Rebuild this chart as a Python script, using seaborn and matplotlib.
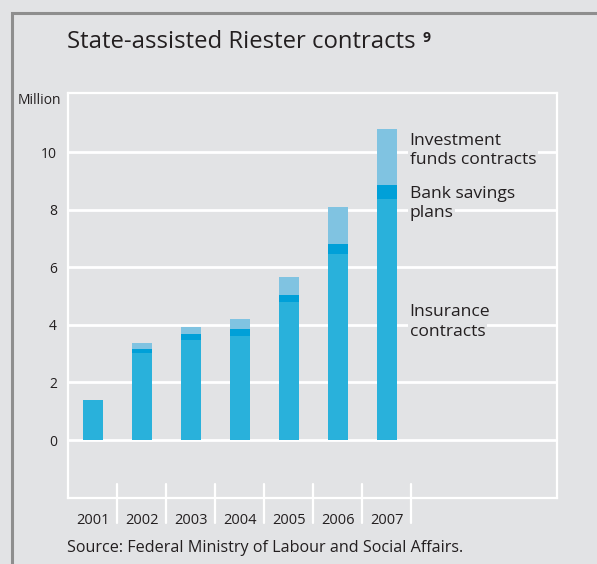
import matplotlib
matplotlib.use("Agg")
import matplotlib.pyplot as plt
import seaborn as sns
import pandas as pd
import numpy as np
from matplotlib.patches import Rectangle

years = ["2001", "2002", "2003", "2004", "2005", "2006", "2007"]
insurance = [1.40, 3.03, 3.47, 3.63, 4.79, 6.47, 8.37]
bank = [0.00, 0.14, 0.21, 0.22, 0.25, 0.34, 0.48]
funds = [0.00, 0.20, 0.24, 0.35, 0.62, 1.28, 1.95]
yticks = [0, 2, 4, 6, 8, 10]

BG = "#E2E3E5"
C_INS = "#29B1DB"
C_BANK = "#00A0D8"
C_FUND = "#80C3E1"
TXT = "#231F20"

sns.set_style("white")
plt.rcParams["font.family"] = ["Open Sans", "DejaVu Sans"]

df = pd.DataFrame({"year": years, "insurance": insurance, "bank": bank, "funds": funds})
df["lvl_bank"] = df["insurance"] + df["bank"]
df["lvl_total"] = df["lvl_bank"] + df["funds"]

fig = plt.figure(figsize=(5.97, 5.64), dpi=100, facecolor=BG)
ax = fig.add_axes([68 / 597, 1 - 498 / 564, (556.7 - 68) / 597, (498 - 93) / 564])
ax.set_facecolor(BG)

for col, c in [("lvl_total", C_FUND), ("lvl_bank", C_BANK), ("insurance", C_INS)]:
    sns.barplot(data=df, x="year", y=col, color=c, width=0.41, ax=ax,
                saturation=1, edgecolor="none", linewidth=0, zorder=3)

ax.set_xlim(-0.504, 9.47)
ax.set_ylim(-2.01, 12.05)
ax.set_yticks(yticks)
ax.set_yticklabels([str(v) for v in yticks])
ax.set_xlabel("")
ax.set_ylabel("")
ax.yaxis.grid(True, color="white", linewidth=2)
ax.xaxis.grid(False)
ax.set_axisbelow(True)
ax.tick_params(axis="both", length=0, labelsize=10, labelcolor=TXT)
ax.tick_params(axis="y", pad=8)
ax.tick_params(axis="x", pad=11, labelsize=10.5)
for s in ax.spines.values():
    s.set_visible(True)
    s.set_color("white")
    s.set_linewidth(1.6)

# category separators below the axis
for i in range(len(years)):
    ax.plot([i + 0.5, i + 0.5], [-1.53, -2.88], color="white", lw=1.6,
            clip_on=False, zorder=4)

# series labels beside the last bar (one text per line, each masking the grid)
lab_kw = dict(fontsize=12.6, color=TXT, ha="left", va="center",
              bbox=dict(facecolor=BG, edgecolor="none", pad=1.0), zorder=5)
label_lines = [("Investment", 10.37), ("funds contracts", 9.74),
               ("Bank savings", 8.56), ("plans", 7.90),
               ("Insurance", 4.43), ("contracts", 3.77)]
for txt, yv in label_lines:
    ax.text(6.47, yv, txt, **lab_kw)

# titles and texts
t = fig.text(67 / 597, 1 - 42 / 564, "State-assisted Riester contracts",
             fontsize=17.2, color=TXT, ha="left", va="center")
ax.annotate("9", xy=(1, 1), xycoords=t, xytext=(5, -1), textcoords="offset points",
            ha="left", va="top", fontsize=10, fontweight="bold", color=TXT)
fig.text(61 / 597, 1 - 100 / 564, "Million", fontsize=10, color=TXT, ha="right", va="center")
fig.text(67 / 597, 1 - 548 / 564, "Source: Federal Ministry of Labour and Social Affairs.",
         fontsize=11.6, color=TXT, ha="left", va="center")

# outer grey frame
fig.patches.append(Rectangle((12 / 597, -0.2), 1.2, 1.2 - 13 / 564,
                             transform=fig.transFigure, facecolor="none",
                             edgecolor="#8E8E8E", linewidth=2.2))

fig.savefig("out.png", dpi=100, facecolor=BG)
